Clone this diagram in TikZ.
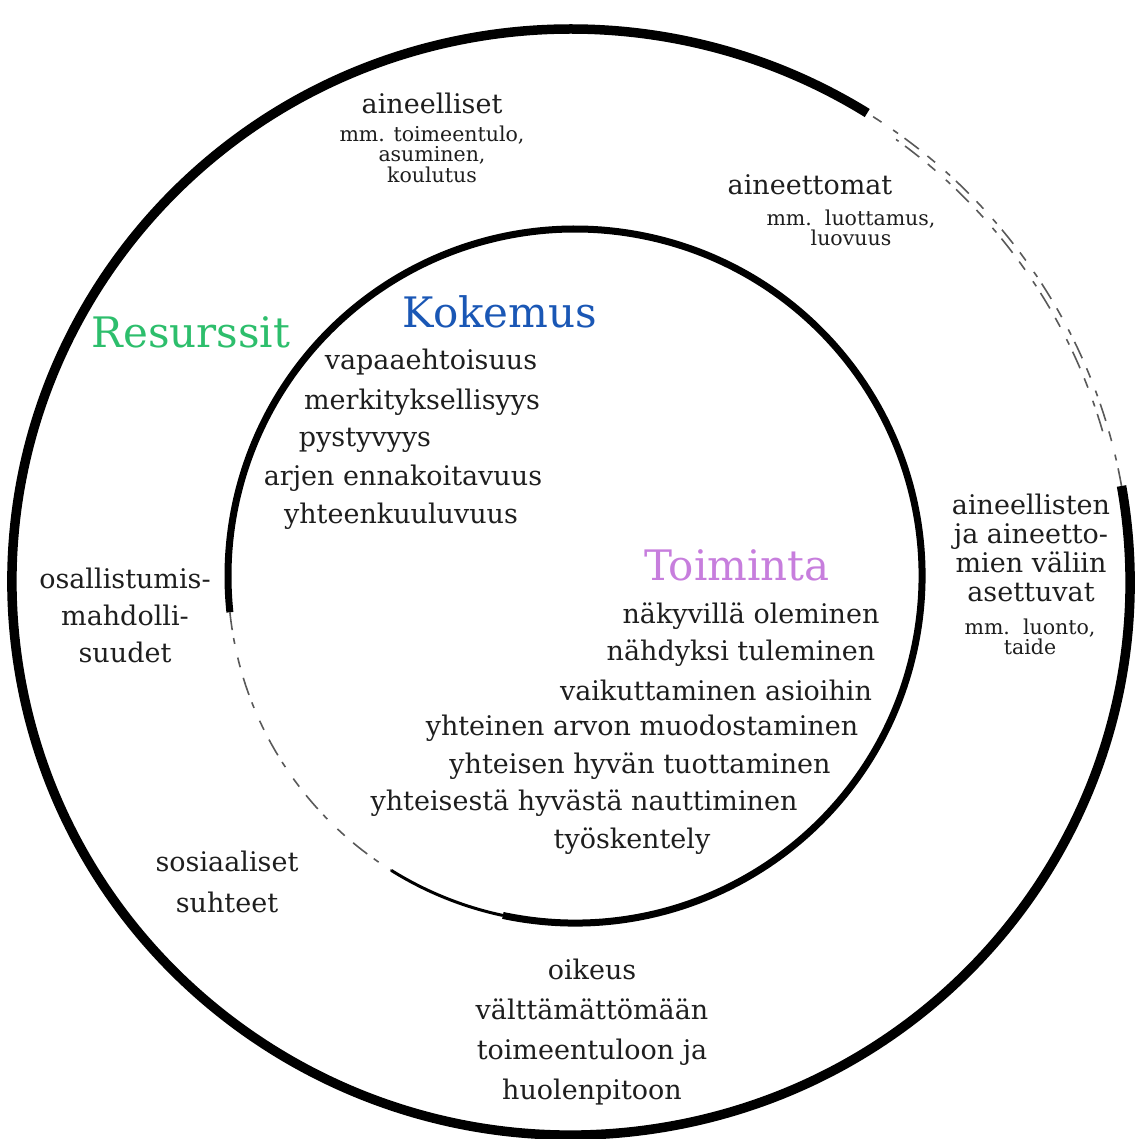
\documentclass[tikz,border=0pt]{standalone}
\usepackage{fontspec}
\setmainfont{DejaVu Serif}
\definecolor{resgreen}{HTML}{2DBE6C}
\definecolor{kokblue}{HTML}{1A57B5}
\definecolor{toiviolet}{HTML}{C77EDD}
\definecolor{txtgray}{HTML}{1E1E1E}

\begin{document}
\begin{tikzpicture}
        [x=1pt,y=1pt,every node/.style={inner sep=0,text=txtgray,align=center},
         lbl/.style={font=\fontsize{27}{30}\selectfont},
         sml/.style={font=\fontsize{20.5}{20.5}\selectfont},
         head/.style={font=\fontsize{42}{46}\selectfont},
         brush/.style={line width=9.5pt,black},
         thinbrush/.style={line width=3pt,black},
         faint/.style={line width=1.6pt,black!65,dash pattern=on 18pt off 8pt on 6pt off 14pt on 10pt off 11pt}]

        \useasboundingbox (0,0) rectangle (1134,-1139);

        % the two rings
        \coordinate (oc) at (571,-582);
        \coordinate (ic) at (575,-576);
        \draw[brush] (oc) ++(10:559 and 553) arc[start angle=10, end angle=-302, x radius=559, y radius=553];
        \draw[faint] (oc) ++(10:559 and 553) arc[start angle=10, end angle=58, x radius=559, y radius=553];
        \draw[faint] (oc) ++(16:553 and 547) arc[start angle=16, end angle=54, x radius=553, y radius=547];
        \draw[brush,line width=7pt] (ic) ++(258:347) arc[start angle=258, end angle=546, radius=347];
        \draw[thinbrush] (ic) ++(238:347) arc[start angle=238, end angle=258, radius=347];
        \draw[faint] (ic) ++(186:347) arc[start angle=186, end angle=238, radius=347];

        % outer ring
        \node[head,text=resgreen] (resurssit) at (191,-332) {Resurssit};
        \node[lbl] (aineelliset) at (432,-103) {aineelliset};
        \node[sml] (aineellisetex) at (432,-154) {mm. toimeentulo,\\asuminen,\\koulutus};
        \node[lbl] (aineettomat) at (810,-185) {aineettomat};
        \node[sml] (aineettomatex) at (851,-228) {mm.\ \ luottamus,\\luovuus};
        \node[lbl,font=\fontsize{27}{29}\selectfont] (valiin) at (1031,-548) {aineellisten\\ja aineetto-\\mien väliin\\asettuvat};
        \node[sml] (valiinex) at (1030,-637) {mm.\ \ luonto,\\taide};
        \node[lbl,font=\fontsize{27}{37}\selectfont] (osallistumis) at (125,-615) {osallistumis-\\mahdolli-\\suudet};
        \node[lbl,font=\fontsize{27}{41}\selectfont] (sosiaaliset) at (227,-882) {sosiaaliset\\suhteet};
        \node[lbl,font=\fontsize{27}{40}\selectfont] (oikeus) at (592,-1032) {oikeus\\välttämättömään\\toimeentuloon ja\\huolenpitoon};

        % inner ring
        \node[head,text=kokblue] (kokemus) at (500,-312) {Kokemus};
        \node[lbl] (k1) at (431,-362) {vapaaehtoisuus};
        \node[lbl] (k2) at (422,-402) {merkityksellisyys};
        \node[lbl] (k3) at (365,-440) {pystyvyys};
        \node[lbl] (k4) at (403,-478) {arjen ennakoitavuus};
        \node[lbl] (k5) at (401,-516) {yhteenkuuluvuus};

        \node[head,text=toiviolet] (toiminta) at (737,-565) {Toiminta};
        \node[lbl] (t1) at (751,-616) {näkyvillä oleminen};
        \node[lbl] (t2) at (741,-653) {nähdyksi tuleminen};
        \node[lbl] (t3) at (716,-690) {vaikuttaminen asioihin};
        \node[lbl] (t4) at (642,-728) {yhteinen arvon muodostaminen};
        \node[lbl] (t5) at (640,-766) {yhteisen hyvän tuottaminen};
        \node[lbl] (t6) at (584,-803) {yhteisestä hyvästä nauttiminen};
        \node[lbl] (t7) at (632,-841) {työskentely};

      \end{tikzpicture}
\end{document}
